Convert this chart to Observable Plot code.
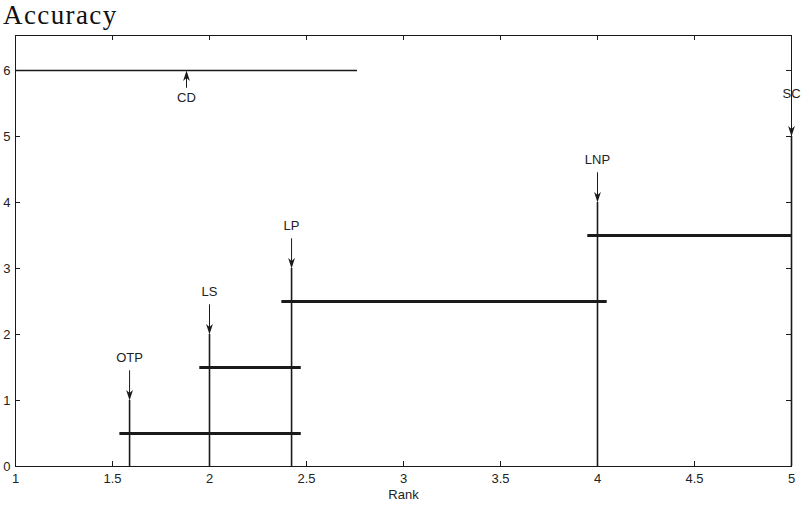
<!DOCTYPE html>
<html><head><meta charset="utf-8">
<script src="https://cdn.jsdelivr.net/npm/d3@7"></script>
<script src="https://cdn.jsdelivr.net/npm/@observablehq/plot@0.6"></script>
<style>
body{margin:0;background:#fff;width:809px;height:506px;overflow:hidden}
#title{font-family:"Liberation Serif","Times New Roman",serif;font-size:27px;line-height:31px;height:30px;padding-left:3px;letter-spacing:1.4px;color:#111;white-space:nowrap}
#chart svg{display:block}
</style></head><body>
<div id="title">Accuracy</div>
<div id="chart"></div>
<script>
// Methods, average ranks and label levels
const methods = ["OTP", "LS", "LP", "LNP", "SC"];
const ranks = [1.588, 2.0, 2.423, 4.0, 5.0];
const levels = [1, 2, 3, 4, 5];
// Cliques (groups not significantly different)
const cliqueStart = [1.538, 1.95, 2.373, 3.95];
const cliqueEnd = [2.473, 2.473, 4.05, 5.0];
const cliqueLevel = [0.5, 1.5, 2.5, 3.5];
// Critical difference
const cdStart = 1.0;
const cdValue = 1.763;
const cdLevel = 6;
const cdLabel = "CD";
// Axis ticks
const xTicks = [1, 1.5, 2, 2.5, 3, 3.5, 4, 4.5, 5];
const yTicks = [0, 1, 2, 3, 4, 5, 6];
const xLabel = "Rank";

const W = 809, H = 476;
const mT = 5, mB = 40, mL = 15, mR = 18;
const pw = W - mL - mR, ph = H - mT - mB;
const ink = "#1a1a1a";
const fs = 13;
const fmt = d => String(d);

const items = methods.map((m, i) => ({name: m, rank: ranks[i], level: levels[i]}));
const cliques = cliqueStart.map((s, i) => ({x1: s, x2: cliqueEnd[i], y: cliqueLevel[i]}));
const cd = [{x1: cdStart, x2: cdStart + cdValue, y: cdLevel, mid: cdStart + cdValue / 2}];

const headDown = {draw(ctx) { ctx.moveTo(0, 0); ctx.lineTo(-3.4, -10.5); ctx.lineTo(0, -7.5); ctx.lineTo(3.4, -10.5); ctx.closePath(); }};
const headUp = {draw(ctx) { ctx.moveTo(0, 0); ctx.lineTo(-3.4, 10.5); ctx.lineTo(0, 7.5); ctx.lineTo(3.4, 10.5); ctx.closePath(); }};

const chart = Plot.plot({
  width: W, height: H,
  marginTop: mT, marginBottom: mB, marginLeft: mL, marginRight: mR,
  style: {fontFamily: "'Liberation Sans', Arial, sans-serif", fontSize: fs + "px", color: ink, background: "#fff"},
  x: {domain: [1, 5]},
  y: {domain: [0, 6.53]},
  marks: [
    Plot.frame({stroke: ink, strokeWidth: 1}),
    Plot.axisX(xTicks, {tickSize: 0, tickPadding: 7, tickFormat: fmt, fontSize: fs, fill: "#222", label: null}),
    Plot.axisY(yTicks, {tickSize: 0, tickPadding: 5, tickFormat: fmt, fontSize: fs, fill: "#222", label: null}),
    Plot.tickX(xTicks, {x: d => d, insetTop: ph - 5, stroke: ink}),
    Plot.tickX(xTicks, {x: d => d, insetBottom: ph - 5, stroke: ink}),
    Plot.tickY(yTicks, {y: d => d, insetRight: pw - 5, stroke: ink}),
    Plot.tickY(yTicks, {y: d => d, insetLeft: pw - 5, stroke: ink}),
    Plot.text([xLabel], {frameAnchor: "bottom", lineAnchor: "middle", x: 3, dy: 28, fontSize: fs, fill: "#222"}),
    // CD bar
    Plot.ruleY(cd, {x1: "x1", x2: "x2", y: "y", stroke: ink, strokeWidth: 1.6}),
    Plot.ruleX(cd, {x: "mid", y1: d => d.y - 0.27, y2: d => d.y - 0.1, stroke: ink, strokeWidth: 1}),
    Plot.dot(cd, {x: "mid", y: "y", symbol: headUp, fill: ink, stroke: null, r: 5}),
    Plot.text(cd, {x: "mid", y: d => d.y - 0.42, text: () => cdLabel, fontSize: fs, fill: "#222"}),
    // Method verticals
    Plot.ruleX(items, {x: "rank", y1: 0, y2: "level", stroke: ink, strokeWidth: 1.6}),
    Plot.ruleX(items, {x: "rank", y1: d => d.level + 0.45, y2: d => d.level + 0.1, stroke: ink, strokeWidth: 1}),
    Plot.dot(items, {x: "rank", y: "level", symbol: headDown, fill: ink, stroke: null, r: 5}),
    Plot.text(items, {x: "rank", y: d => d.level + 0.64, text: "name", fontSize: fs, fill: "#222"}),
    // Cliques
    Plot.ruleY(cliques, {x1: "x1", x2: "x2", y: "y", stroke: ink, strokeWidth: 2.8})
  ]
});
document.getElementById("chart").appendChild(chart);
</script>
</body></html>
